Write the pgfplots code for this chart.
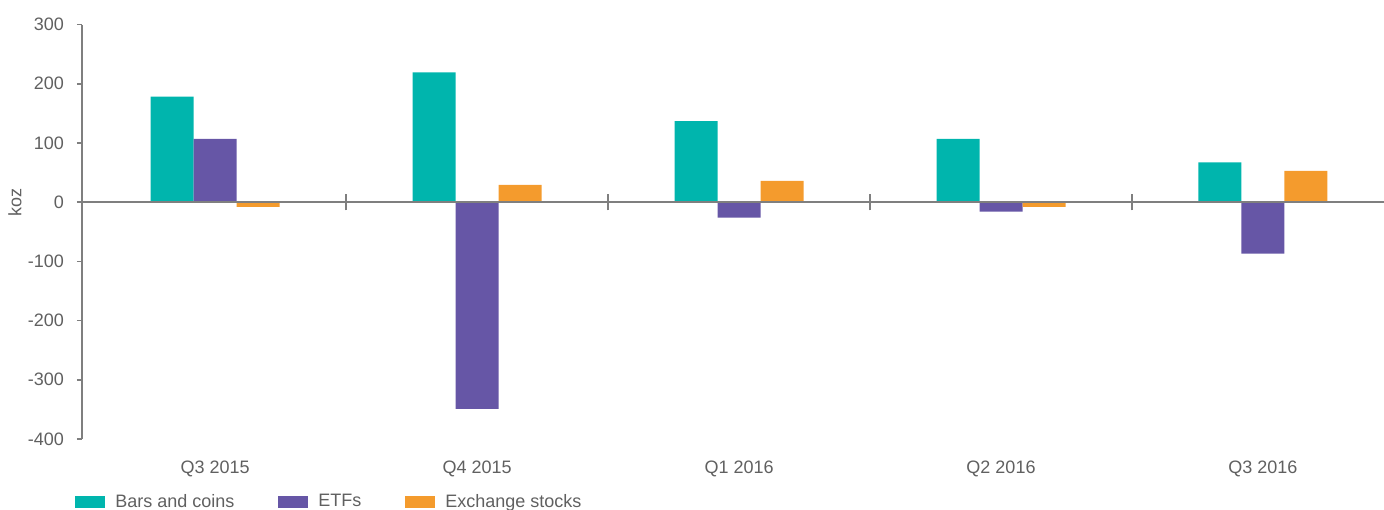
\documentclass[border=0pt]{standalone}
\usepackage{fontspec}
\setmainfont{Liberation Sans}
\usepackage{pgfplots}
\pgfplotsset{compat=1.18}
\definecolor{cTeal}{HTML}{00B5AD}
\definecolor{cPurple}{HTML}{6656A6}
\definecolor{cOrange}{HTML}{F49B2D}
\definecolor{axisgray}{HTML}{7F7F7F}
\definecolor{txtgray}{HTML}{606060}
\begin{document}
\begin{tikzpicture}
\path[use as bounding box] (0,0) rectangle (692pt,254.5pt);
\begin{axis}[
  at={(41pt,35pt)}, anchor=south west,
  scale only axis, width=651pt, height=207.25pt,
  xmin=-0.508, xmax=4.462, ymin=-400, ymax=300,
  axis lines*=left,
  x axis line style={draw=none},
  y axis line style={axisgray, line width=0.8pt},
  ybar=0pt, bar width=21.5pt,
  xtick={0,1,2,3,4},
  xticklabels={Q3 2015,Q4 2015,Q1 2016,Q2 2016,Q3 2016},
  major x tick style={draw=none},
  ytick={-400,-300,...,300},
  ytick align=outside,
  major tick length=2.5pt,
  major y tick style={axisgray, line width=0.8pt},
  /pgf/number format/assume math mode=true,
  tick label style={font=\fontsize{9}{10.8}\selectfont, text=txtgray},
  xticklabel style={yshift=-5pt},
  yticklabel style={xshift=-3pt},
  clip=false,
  legend columns=3,
  legend style={draw=none, fill=none, at={(-0.0054,-0.152)}, anchor=west,
    font=\fontsize{9}{10.8}\selectfont, text=txtgray, inner sep=0pt,
    /tikz/every odd column/.append style={column sep=3pt},
    /tikz/every even column/.append style={column sep=20pt}},
  legend image code/.code={\fill[#1] (0pt,-3pt) rectangle (15pt,3pt);},
]
\addplot[fill=cTeal, draw=none] coordinates {(0,178) (1,219) (2,137) (3,107) (4,67)};
\addplot[fill=cPurple, draw=none] coordinates {(0,107) (1,-349) (2,-26) (3,-16) (4,-87)};
\addplot[fill=cOrange, draw=none] coordinates {(0,-8) (1,29) (2,36) (3,-8) (4,53)};
\legend{Bars and coins, ETFs, Exchange stocks}
\draw[axisgray, line width=0.8pt] (axis cs:-0.508,0) -- (axis cs:4.462,0);
\pgfplotsinvokeforeach{0.5,1.5,2.5,3.5}{
  \draw[axisgray, line width=0.8pt] (axis cs:#1,-14) -- (axis cs:#1,14);
}
\node[rotate=90, font=\fontsize{9}{10.8}\selectfont, text=txtgray] at (axis description cs:-0.0515,0.5714) {koz};
\end{axis}
\end{tikzpicture}
\end{document}
